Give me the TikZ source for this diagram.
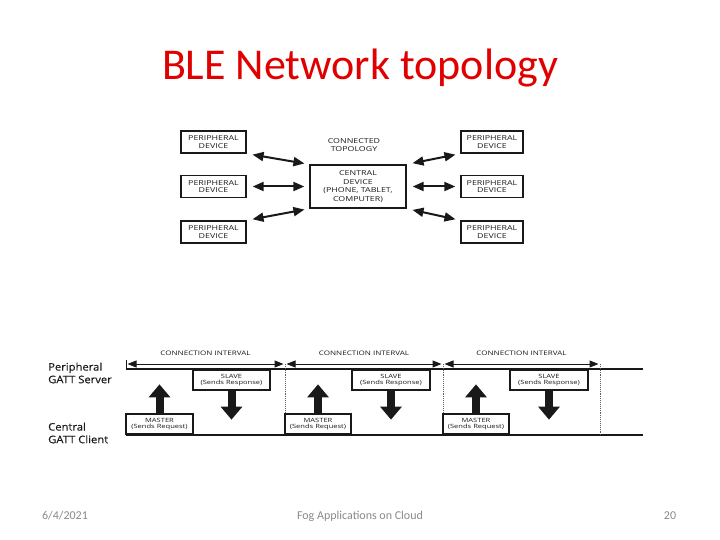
\documentclass[tikz,border=0pt]{standalone}
\usepackage{fontspec}
\setmainfont{Carlito}
\newfontfamily\dfont[FakeStretch=1.3]{Open Sans}
\newfontfamily\rfont[FakeStretch=1.08,FakeBold=0.35]{Open Sans}
\usetikzlibrary{arrows.meta,calc}
\definecolor{titlered}{RGB}{224,0,0}
\definecolor{footgray}{RGB}{137,137,137}
\definecolor{ink}{RGB}{25,25,25}
\begin{document}
\begin{tikzpicture}[x=1pt,y=-1pt,
  dev/.style={draw=ink, line width=1.3pt, minimum width=64pt, minimum height=22pt, inner sep=0pt, align=center, text=ink, font=\dfont\fontsize{6.8}{7.6}\selectfont},
  biarrow/.style={draw=ink, line width=2pt, {Triangle[width=9pt,length=11pt]}-{Triangle[width=9pt,length=11pt]}, shorten <=6pt, shorten >=5pt},
  msg/.style={draw=ink, line width=1.3pt, minimum height=20pt, inner sep=0pt, align=center, text=ink, font=\dfont\fontsize{5.8}{6.6}\selectfont},
  blockarrow/.style={draw=ink, line width=8pt, -{Triangle[width=21pt,length=13pt]}},
  interval/.style={draw=ink, line width=1pt, {Triangle[width=7pt,length=9pt]}-{Triangle[width=7pt,length=9pt]}, shorten <=1.5pt, shorten >=1.5pt},
  timeline/.style={draw=ink, line width=2pt},
  ivlabel/.style={text=ink, font=\dfont\fontsize{6.2}{7}\selectfont, inner sep=0pt},
  rolelabel/.style={text=ink, font=\rfont\fontsize{10.4}{12.6}\selectfont, align=left, anchor=west, inner sep=0pt},
  foot/.style={text=footgray, font=\fontsize{12}{14}\selectfont, anchor=base, inner sep=0pt}
]
\useasboundingbox (0,0) rectangle (720,540);

% title
\node[text=titlered, font=\fontsize{44}{52}\selectfont, anchor=base, inner sep=0pt] (title) at (360,80) {BLE Network topology};

% ---------- topology ----------
\node[dev, minimum width=65pt] (pl1) at (213.5,142) {PERIPHERAL\\DEVICE};
\node[dev, minimum width=65pt] (pl2) at (213.5,186.5) {PERIPHERAL\\DEVICE};
\node[dev, minimum width=65pt] (pl3) at (213.5,232) {PERIPHERAL\\DEVICE};
\node[dev, minimum width=62pt] (pr1) at (492,142) {PERIPHERAL\\DEVICE};
\node[dev, minimum width=62pt] (pr2) at (492,186.5) {PERIPHERAL\\DEVICE};
\node[dev, minimum width=62pt] (pr3) at (492,232) {PERIPHERAL\\DEVICE};
\node[dev, minimum width=96pt, minimum height=43pt, font=\dfont\fontsize{6.8}{8.4}\selectfont] (c) at (358,186.5) {CENTRAL\\DEVICE\\(PHONE, TABLET,\\COMPUTER)};
\node[text=ink, align=center, inner sep=0pt, font=\dfont\fontsize{6.8}{8.3}\selectfont] (ct) at (354,145) {CONNECTED\\TOPOLOGY};

\draw[biarrow] (pl1.south east) -- (c.north west);
\draw[biarrow] (pl2.east) -- (c.west);
\draw[biarrow] (pl3.north east) -- (c.south west);
\draw[biarrow] (c.north east) -- (pr1.south west);
\draw[biarrow] (c.east) -- (pr2.west);
\draw[biarrow] (c.south east) -- (pr3.north west);

% ---------- timing ----------
\coordinate (ps) at (126,369);
\coordinate (pe) at (643,369);
\coordinate (cs) at (126,434.5);
\coordinate (ce) at (643,434.5);
\coordinate (t0) at (126,364);
\coordinate (t1) at (285,364);
\coordinate (t2) at (443,364);
\coordinate (t3) at (600,364);

\node[rolelabel] (per) at (48,373) {Peripheral\\GATT Server};
\node[rolelabel] (cen) at (48,433) {Central\\GATT Client};

\draw[timeline] (ps) -- (pe);
\draw[timeline] (cs) -- (ce);
\draw[draw=ink, line width=1pt] ($(t0)+(0,-4)$) -- ($(t0)+(0,5)$);

\draw[interval] (t0) -- (t1);
\draw[interval] (t1) -- (t2);
\draw[interval] (t2) -- (t3);

\foreach \t in {t1,t2,t3}
  \draw[draw=ink!70, line width=0.9pt, densely dotted] (\t) -- (\t |- cs);

\node[ivlabel] (l1) at ($(t0)!0.5!(t1)+(0,-11)$) {CONNECTION INTERVAL};
\node[ivlabel] (l2) at ($(t1)!0.5!(t2)+(0,-11)$) {CONNECTION INTERVAL};
\node[ivlabel] (l3) at ($(t2)!0.5!(t3)+(0,-11)$) {CONNECTION INTERVAL};

\node[msg, minimum width=77pt] (s1) at (231.5,380) {SLAVE\\(Sends Response)};
\node[msg, minimum width=78pt] (s2) at (391,380) {SLAVE\\(Sends Response)};
\node[msg, minimum width=78pt] (s3) at (549,380) {SLAVE\\(Sends Response)};
\node[msg, minimum width=67pt] (m1) at (159.5,424) {MASTER\\(Sends Request)};
\node[msg, minimum width=66pt] (m2) at (318,424) {MASTER\\(Sends Request)};
\node[msg, minimum width=66pt] (m3) at (476,424) {MASTER\\(Sends Request)};

\draw[blockarrow] (m1.north) -- ++(0,-29);
\draw[blockarrow] (m2.north) -- ++(0,-29);
\draw[blockarrow] (m3.north) -- ++(0,-29);
\draw[blockarrow] (s1.south) -- ++(0,29);
\draw[blockarrow] (s2.south) -- ++(0,29);
\draw[blockarrow] (s3.south) -- ++(0,29);

% footer
\node[foot] (date) at (65,519) {6/4/2021};
\node[foot] (ftitle) at (360,519) {Fog Applications on Cloud};
\node[foot] (page) at (670,519) {20};
\end{tikzpicture}
\end{document}
